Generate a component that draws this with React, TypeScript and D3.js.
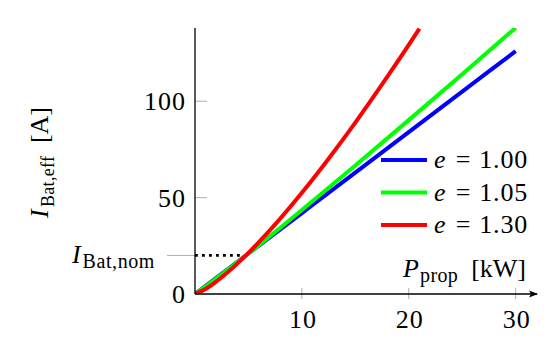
import React from 'react';
import * as d3 from 'd3';

// values
const powerBlue = [0, 5, 10, 15, 20, 25, 30];
const currentBlue = [0, 21, 42, 63, 84, 105, 126];
const powerGreen = [0, 1, 2, 3, 5, 10, 15, 20, 25, 30];
const currentGreen = [0, 3.9, 8.1, 12.4, 21.0, 43.6, 66.7, 90.2, 114.0, 138.1];
const powerRed = [0, 1, 2, 3, 5, 7.5, 10, 12.5, 15, 17.5, 20, 21];
const currentRed = [0, 2.6, 6.5, 11.0, 21.3, 36.1, 52.5, 70.2, 88.9, 108.7, 129.2, 137.7];

const xTicks = [10, 20, 30];
const yTicks = [0, 50, 100];
const nomCurrent = 20;
const nomPower = 4.76;

const legendLabels = ['1.00', '1.05', '1.30'];
const seriesColors = ['#0000ff', '#00ff00', '#ff0000'];

const W = 550;
const H = 338;
const font = "'Liberation Serif', serif";

const x = d3.scaleLinear().domain([0, 32]).range([195, 537]);
const y = d3.scaleLinear().domain([0, 138]).range([294, 28]);

const line = d3
  .line<[number, number]>()
  .x(d => x(d[0]))
  .y(d => y(d[1]))
  .curve(d3.curveMonotoneX);

const series = [
  d3.zip(powerBlue, currentBlue) as [number, number][],
  d3.zip(powerGreen, currentGreen) as [number, number][],
  d3.zip(powerRed, currentRed) as [number, number][],
];

export default function App() {
  const x0 = x(0);
  const y0 = y(0);
  const yNom = y(nomCurrent);

  return (
    <svg
      width={W}
      height={H}
      style={{ position: 'absolute', left: 0, top: 0, background: '#fff', fontFamily: font }}
    >
      <defs>
        <clipPath id="plot">
          <rect x={x0} y={y(138)} width={x(32) - x0} height={y0 - y(138)} />
        </clipPath>
        <marker id="arrow" markerWidth="10" markerHeight="8" refX="8" refY="4" orient="auto" markerUnits="userSpaceOnUse">
          <path d="M0,0.5 L9,4 L0,7.5 L2,4 Z" fill="#000" />
        </marker>
      </defs>

      {/* ticks */}
      {xTicks.map(t => (
        <line key={'xt' + t} x1={x(t)} x2={x(t)} y1={y0 - 6} y2={y0 + 5} stroke="#999" strokeWidth={0.8} />
      ))}
      {yTicks.filter(t => t > 0).map(t => (
        <line key={'yt' + t} x1={x0} x2={x0 + 12} y1={y(t)} y2={y(t)} stroke="#999" strokeWidth={0.8} />
      ))}
      <line x1={x0 - 28} x2={x0} y1={yNom} y2={yNom} stroke="#999" strokeWidth={0.8} />
      <line x1={x0} x2={x(nomPower)} y1={yNom} y2={yNom} stroke="#000" strokeWidth={2.8} strokeDasharray="2.8,4.2" />

      {/* curves */}
      <g clipPath="url(#plot)">
        {series.map((s, i) => (
          <path key={i} d={line(s) ?? ''} fill="none" stroke={seriesColors[i]} strokeWidth={4} />
        ))}
      </g>

      {/* axes */}
      <line x1={x0} x2={x0} y1={y(138)} y2={y0} stroke="#000" strokeWidth={1.3} />
      <line x1={x0} x2={x(32)} y1={y0} y2={y0} stroke="#000" strokeWidth={1.3} markerEnd="url(#arrow)" />

      {/* tick labels */}
      <g fontSize={26} letterSpacing={1}>
        {xTicks.map(t => (
          <text key={'xl' + t} x={x(t) + 1} y={328} textAnchor="middle">{t}</text>
        ))}
        {yTicks.map(t => (
          <text key={'yl' + t} x={186} y={y(t) + 9} textAnchor="end">{t}</text>
        ))}
      </g>
      <text x={72} y={yNom + 8} fontSize={26} fontStyle="italic">I</text>
      <text x={155} y={yNom + 13} fontSize={20} textAnchor="end" letterSpacing={0.6}>Bat,nom</text>

      {/* axis titles */}
      <text x={403} y={277} fontSize={26} fontStyle="italic">P</text>
      <text x={420} y={282} fontSize={20} letterSpacing={0.4}>prop</text>
      <text x={526} y={277} fontSize={26} textAnchor="end">[kW]</text>

      <g transform="translate(48,0) rotate(-90)">
        <text x={-218} y={0} fontSize={26} fontStyle="italic">I</text>
        <text x={-207} y={6} fontSize={18} letterSpacing={0.3}>Bat,eff</text>
        <text x={-107} y={0} fontSize={26} textAnchor="end">[A]</text>
      </g>

      {/* legend */}
      {legendLabels.map((lab, i) => {
        const ly = 160 + i * 32.5;
        return (
          <g key={lab} fontSize={26}>
            <line x1={381} x2={427} y1={ly} y2={ly} stroke={seriesColors[i]} strokeWidth={4} />
            <text x={434} y={ly + 8} fontStyle="italic">e</text>
            <text x={463} y={ly + 8} textAnchor="middle">=</text>
            <text x={528} y={ly + 8} textAnchor="end" letterSpacing={0.8}>{lab}</text>
          </g>
        );
      })}
    </svg>
  );
}
